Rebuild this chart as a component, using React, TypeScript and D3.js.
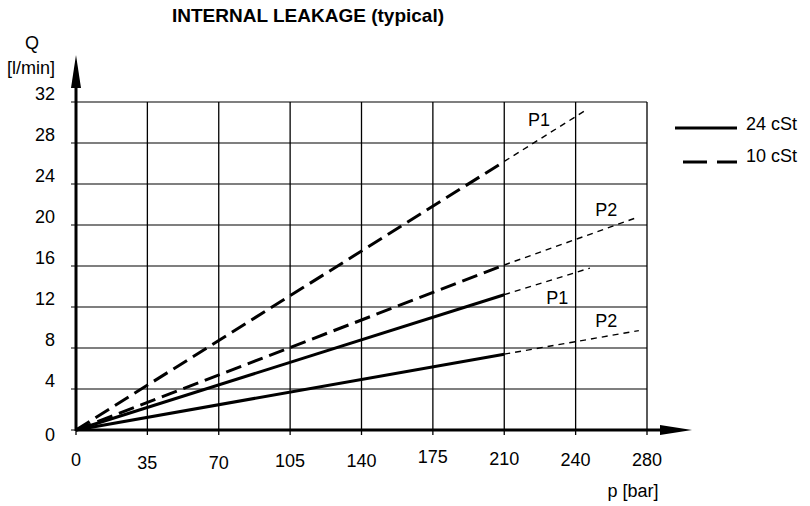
import * as d3 from "d3";

const WIDTH = 810;
const HEIGHT = 506;
const FONT = "'Liberation Sans', Arial, sans-serif";

// plot frame
const X0 = 76;
const X1 = 647;
const Y0 = 430;
const Y1 = 102;

// axis ticks (the drawing labels the 8th column "240")
const pTicks = [0, 35, 70, 105, 140, 175, 210, 245, 280];
const pTickLabels = ["0", "35", "70", "105", "140", "175", "210", "240", "280"];
const pLabelShift = [0, 3, 3, 1, 1, -3, -1, 0, 0];
const qTicks = [0, 4, 8, 12, 16, 20, 24, 28, 32];

// measured range (thick lines) and extrapolated range (thin dashed)
const measuredP = [0, 210];
const q10cstP1 = [0, 26.2];
const q10cstP2 = [0, 16.1];
const q24cstP1 = [0, 13.2];
const q24cstP2 = [0, 7.4];

const ext10cstP1 = { p: [210, 250], q: [26.2, 31.2] };
const ext10cstP2 = { p: [210, 276], q: [16.1, 20.8] };
const ext24cstP1 = { p: [210, 252], q: [13.2, 15.8] };
const ext24cstP2 = { p: [210, 276], q: [7.4, 9.7] };

// curve labels
const curveLabels = ["P1", "P2", "P1", "P2"];
const curveLabelP = [227, 260, 236, 260];
const curveLabelQ = [30.3, 21.5, 12.9, 10.7];

const legendNames = ["24 cSt", "10 cSt"];

export default function App() {
  const x = d3.scaleLinear().domain([0, 280]).range([X0, X1]);
  const y = d3.scaleLinear().domain([0, 32]).range([Y0, Y1]);
  const line = d3
    .line<[number, number]>()
    .x((d) => x(d[0]))
    .y((d) => y(d[1]));
  const pts = (p: number[], q: number[]) =>
    p.map((v, i) => [v, q[i]] as [number, number]);

  const measured = [
    { q: q10cstP1, dash: "16 7" },
    { q: q10cstP2, dash: "16 7" },
    { q: q24cstP1, dash: undefined },
    { q: q24cstP2, dash: undefined },
  ];
  const extended = [ext10cstP1, ext10cstP2, ext24cstP1, ext24cstP2];

  return (
    <svg
      width={WIDTH}
      height={HEIGHT}
      style={{ position: "absolute", left: 0, top: 0, background: "#fff" }}
      fontFamily={FONT}
    >
      <rect width={WIDTH} height={HEIGHT} fill="#fff" />
      {/* title */}
      <text x={172} y={22} fontSize={19} fontWeight="bold">
        INTERNAL LEAKAGE (typical)
      </text>

      {/* horizontal grid */}
      {qTicks.map((t) => (
        <g key={"h" + t}>
          <line x1={X0 - 5} x2={X1} y1={y(t)} y2={y(t)} stroke="#555" strokeWidth={1.5} />
          <text
            x={55}
            y={t === 0 ? y(t) + 5 : y(t) - 8}
            dy="0.35em"
            textAnchor="end"
            fontSize={18}
          >
            {t}
          </text>
        </g>
      ))}

      {/* vertical grid */}
      {pTicks.map((t, i) => (
        <g key={"v" + t}>
          <line x1={x(t)} x2={x(t)} y1={Y1} y2={Y0 + 5} stroke="#000" strokeWidth={1.3} />
          <text
            x={x(t)}
            y={Y0 + 30 + pLabelShift[i]}
            dy="0.35em"
            textAnchor="middle"
            fontSize={18}
          >
            {pTickLabels[i]}
          </text>
        </g>
      ))}

      {/* extrapolated parts */}
      {extended.map((e, i) => (
        <path
          key={"e" + i}
          d={line(pts(e.p, e.q)) || ""}
          fill="none"
          stroke="#000"
          strokeWidth={1.4}
          strokeDasharray="6 5"
        />
      ))}

      {/* measured parts */}
      {measured.map((m, i) => (
        <path
          key={"m" + i}
          d={line(pts(measuredP, m.q)) || ""}
          fill="none"
          stroke="#000"
          strokeWidth={3}
          strokeDasharray={m.dash}
        />
      ))}

      {curveLabels.map((l, i) => (
        <text
          key={"l" + i}
          x={x(curveLabelP[i])}
          y={y(curveLabelQ[i])}
          dy="0.35em"
          textAnchor="middle"
          fontSize={18}
        >
          {l}
        </text>
      ))}

      {/* axes with arrows */}
      <line x1={X0} x2={X0} y1={Y0 + 1} y2={86} stroke="#000" strokeWidth={3} />
      <path d={`M${X0},55 L${X0 - 5},88 L${X0 + 5},88 Z`} fill="#000" />
      <line x1={X0} x2={662} y1={Y0} y2={Y0} stroke="#000" strokeWidth={3} />
      <path d={`M692,${Y0} L660,${Y0 - 5} L660,${Y0 + 5} Z`} fill="#000" />

      {/* axis titles */}
      <text x={32} y={43} dy="0.35em" textAnchor="middle" fontSize={18}>
        Q
      </text>
      <text x={31} y={68} dy="0.35em" textAnchor="middle" fontSize={18}>
        [l/min]
      </text>
      <text x={633} y={491} dy="0.35em" textAnchor="middle" fontSize={18}>
        p [bar]
      </text>

      {/* legend */}
      <line x1={675} x2={737} y1={128} y2={128} stroke="#000" strokeWidth={3} />
      <text x={746} y={124} dy="0.35em" fontSize={18}>
        {legendNames[0]}
      </text>
      <line
        x1={683}
        x2={737}
        y1={162}
        y2={162}
        stroke="#000"
        strokeWidth={3}
        strokeDasharray="24 10"
      />
      <text x={746} y={156} dy="0.35em" fontSize={18}>
        {legendNames[1]}
      </text>
    </svg>
  );
}
